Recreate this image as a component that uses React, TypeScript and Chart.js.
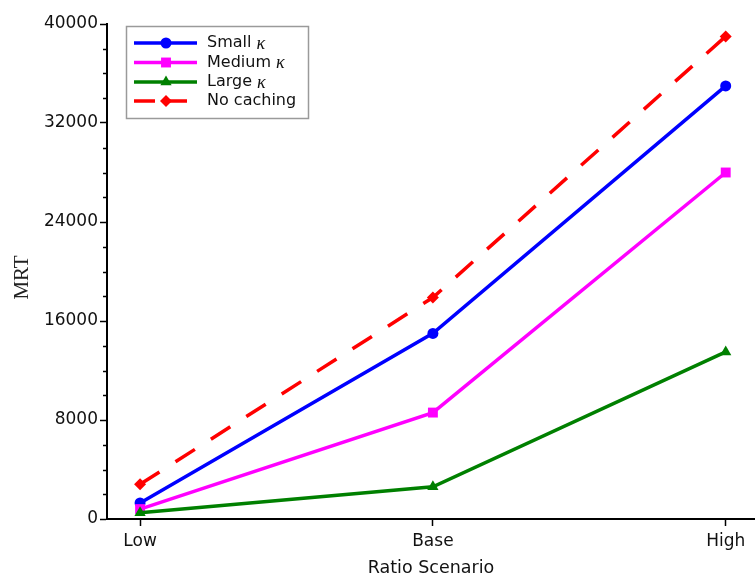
import React, { useEffect, useRef } from "react";
import { Chart, registerables } from "chart.js";

Chart.register(...registerables);

// ---- data ----
const scenarios = ["Low", "Base", "High"];
const scenarioPos = [0, 1, 2];
const smallKappa = [1300, 15000, 35000];
const mediumKappa = [800, 8600, 28000];
const largeKappa = [500, 2600, 13500];
const noCaching = [2800, 17900, 39000];
const yTickValues = [0, 8000, 16000, 24000, 32000, 40000];
const yMinorStep = 2000;
const seriesLabels = ["Small κ", "Medium κ", "Large κ", "No caching"];
const xTitle = "Ratio Scenario";
const yTitle = "MRT";

const FONT = "'DejaVu Sans', sans-serif";

type Series = {
  label: string;
  values: number[];
  color: string;
  style: string;
  radius: number;
  dash: number[];
};

const seriesList: Series[] = [
  { label: seriesLabels[0], values: smallKappa, color: "#0000ff", style: "circle", radius: 5.5, dash: [] },
  { label: seriesLabels[1], values: mediumKappa, color: "#ff00ff", style: "rect", radius: 7, dash: [] },
  { label: seriesLabels[2], values: largeKappa, color: "#008000", style: "triangle", radius: 6.5, dash: [] },
  { label: seriesLabels[3], values: noCaching, color: "#ff0000", style: "rectRot", radius: 6, dash: [23, 19] },
];

function drawMarker(ctx: CanvasRenderingContext2D, style: string, x: number, y: number, r: number) {
  ctx.beginPath();
  if (style === "circle") {
    ctx.arc(x, y, r, 0, Math.PI * 2);
  } else if (style === "rect") {
    const s = r * Math.SQRT1_2;
    ctx.rect(x - s, y - s, 2 * s, 2 * s);
  } else if (style === "triangle") {
    for (let i = 0; i < 3; i++) {
      const a = (i * 2 * Math.PI) / 3;
      const px = x + Math.sin(a) * r;
      const py = y - Math.cos(a) * r;
      if (i === 0) ctx.moveTo(px, py);
      else ctx.lineTo(px, py);
    }
    ctx.closePath();
  } else {
    ctx.moveTo(x, y - r);
    ctx.lineTo(x + r, y);
    ctx.lineTo(x, y + r);
    ctx.lineTo(x - r, y);
    ctx.closePath();
  }
  ctx.fill();
}

const extrasPlugin = {
  id: "extras",
  afterDatasetsDraw(chart: any) {
    const ctx: CanvasRenderingContext2D = chart.ctx;
    const yScale = chart.scales.y;
    const area = chart.chartArea;

    // minor ticks on y axis
    ctx.save();
    ctx.strokeStyle = "#000";
    ctx.lineWidth = 1.5;
    for (let v = yScale.min; v <= yScale.max; v += yMinorStep) {
      if (yTickValues.includes(v)) continue;
      const py = Math.round(yScale.getPixelForValue(v)) + 0.5;
      ctx.beginPath();
      ctx.moveTo(area.left - 4, py);
      ctx.lineTo(area.left, py);
      ctx.stroke();
    }
    ctx.restore();

    // y title
    ctx.save();
    ctx.translate(22, (area.top + area.bottom) / 2 + 6);
    ctx.rotate(-Math.PI / 2);
    ctx.font = "21px 'Liberation Serif', serif";
    ctx.fillStyle = "#222";
    ctx.textAlign = "center";
    ctx.textBaseline = "middle";
    ctx.fillText(yTitle, 0, 0);
    ctx.restore();

    // legend
    ctx.save();
    const bx = 126.5, by = 26.5, bw = 182, bh = 92;
    ctx.fillStyle = "#fff";
    ctx.fillRect(bx, by, bw, bh);
    ctx.strokeStyle = "#9a9a9a";
    ctx.lineWidth = 1.5;
    ctx.strokeRect(bx, by, bw, bh);
    const rows = [43, 62.5, 82, 101];
    seriesList.forEach((s, i) => {
      const y = rows[i];
      ctx.strokeStyle = s.color;
      ctx.fillStyle = s.color;
      ctx.lineWidth = 3.5;
      ctx.setLineDash(s.dash.length ? [21, 11] : []);
      ctx.beginPath();
      ctx.moveTo(134, y);
      ctx.lineTo(197, y);
      ctx.stroke();
      ctx.setLineDash([]);
      drawMarker(ctx, s.style, 166, y, s.radius);
      ctx.fillStyle = "#111";
      ctx.textBaseline = "middle";
      ctx.textAlign = "left";
      const parts = s.label.split("κ");
      ctx.font = "16px " + FONT;
      ctx.fillText(parts[0], 207, y);
      if (parts.length > 1) {
        const w = ctx.measureText(parts[0]).width;
        ctx.font = "italic 18px 'Liberation Serif', serif";
        ctx.fillText("κ", 207 + w, y + 1);
      }
    });
    ctx.restore();
  },
};

export default function App() {
  const ref = useRef<HTMLCanvasElement | null>(null);

  useEffect(() => {
    if (!ref.current) return;
    const datasets = seriesList.map((s, i) => ({
      label: s.label,
      data: s.values.map((v, j) => ({ x: scenarioPos[j], y: v })),
      borderColor: s.color,
      backgroundColor: s.color,
      borderWidth: 3.5,
      borderDash: s.dash,
      borderCapStyle: "butt" as const,
      pointStyle: s.style,
      pointRadius: s.radius,
      pointBorderWidth: 0,
      pointBackgroundColor: s.color,
      pointBorderColor: s.color,
      tension: 0,
      clip: false as any,
      order: seriesList.length - i,
    }));

    const chart = new Chart(ref.current, {
      type: "line",
      data: { datasets },
      options: {
        animation: false,
        responsive: false,
        devicePixelRatio: 1,
        layout: { autoPadding: false, padding: { top: 24, left: 0, right: 0, bottom: 0 } },
        plugins: {
          legend: { display: false },
          tooltip: { enabled: false },
        },
        scales: {
          x: {
            type: "linear",
            min: -0.113,
            max: 2.1,
            afterBuildTicks: (scale: any) => {
              scale.ticks = scenarioPos.map((v) => ({ value: v }));
            },
            afterFit: (scale: any) => {
              scale.height = 58;
              scale.paddingRight = 0;
              scale.paddingLeft = 0;
            },
            grid: {
              drawOnChartArea: false,
              drawTicks: true,
              tickLength: 7,
              tickColor: "#000",
              tickWidth: 1.5,
            },
            border: { display: true, color: "#000", width: 2 },
            ticks: {
              color: "#111",
              font: { family: FONT, size: 17 },
              padding: 5,
              maxRotation: 0,
              autoSkip: false,
              callback: (v: any) => scenarios[scenarioPos.indexOf(Number(v))] ?? "",
            },
            title: {
              display: true,
              text: xTitle,
              color: "#111",
              font: { family: FONT, size: 17.5, lineHeight: 1 },
              padding: { top: 0, bottom: 0 },
            },
          },
          y: {
            type: "linear",
            min: 0,
            max: 40000,
            afterBuildTicks: (scale: any) => {
              scale.ticks = yTickValues.map((v) => ({ value: v }));
            },
            afterFit: (scale: any) => {
              scale.width = 107;
              scale.paddingTop = 0;
              scale.paddingBottom = 0;
            },
            grid: {
              drawOnChartArea: false,
              drawTicks: true,
              tickLength: 7,
              tickColor: "#000",
              tickWidth: 1.5,
            },
            border: { display: true, color: "#000", width: 2 },
            ticks: {
              color: "#111",
              font: { family: FONT, size: 17 },
              padding: 2,
              callback: (v: any) => String(v),
            },
          },
        },
      },
      plugins: [extrasPlugin],
    } as any);

    return () => chart.destroy();
  }, []);

  return (
    <div style={{ position: "fixed", left: 0, top: 0, width: 755, height: 577, background: "#fff" }}>
      <canvas ref={ref} width={755} height={577} style={{ width: 755, height: 577, display: "block" }} />
    </div>
  );
}
